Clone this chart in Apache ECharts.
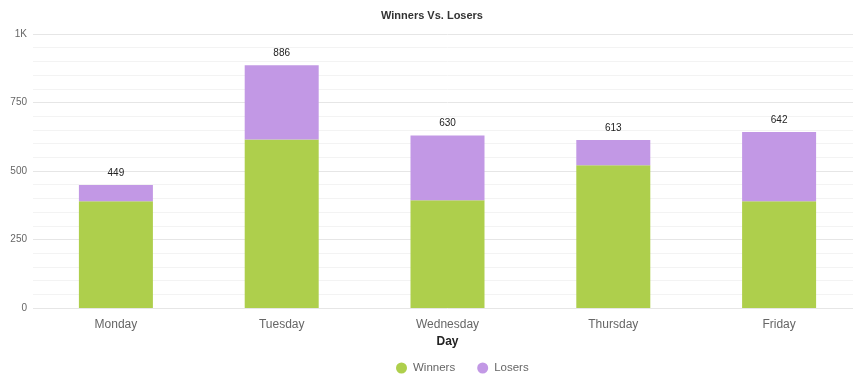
<!DOCTYPE html>
<html><head><meta charset="utf-8">
<script src="https://cdn.jsdelivr.net/npm/echarts@6/dist/echarts.min.js"></script>
<style>html,body{margin:0;padding:0;background:#fff;overflow:hidden;width:853px;height:386px}#c{width:862px;height:386px}</style>
</head><body><div id="c"></div>
<script>
var categories = ['Monday', 'Tuesday', 'Wednesday', 'Thursday', 'Friday'];
var winners = [390, 615, 393, 521, 390];
var losers = [59, 271, 237, 92, 252];
var totals = [449, 886, 630, 613, 642];
var yTicks = [0, 250, 500, 750, 1000];

var chart = echarts.init(document.getElementById('c'));
chart.setOption({
  animation: false,
  title: {
    text: 'Winners Vs. Losers', left: 376, top: 5,
    textStyle: { fontFamily: 'Liberation Sans, Arial', fontSize: 11, fontWeight: 'bold', color: '#333' }
  },
  legend: {
    top: 357, left: 391, icon: 'circle', itemWidth: 13, itemHeight: 11, itemGap: 22,
    textStyle: { fontFamily: 'Liberation Sans, Arial', fontSize: 11.5, color: '#666' },
    data: ['Winners', 'Losers']
  },
  grid: { left: 33, right: 0, top: 34, bottom: 78 },
  xAxis: {
    type: 'category', data: categories,
    name: 'Day', nameLocation: 'middle', nameGap: 28,
    nameTextStyle: { fontFamily: 'Liberation Sans, Arial', fontSize: 12, fontWeight: 'bold', color: '#222' },
    axisLine: { show: false }, axisTick: { show: false },
    axisLabel: { fontFamily: 'Liberation Sans, Arial', fontSize: 12, color: '#666', margin: 11 }
  },
  yAxis: {
    type: 'value', min: 0, max: 1000, interval: 250,
    axisLine: { show: false }, axisTick: { show: false },
    axisLabel: {
      fontFamily: 'Liberation Sans, Arial', fontSize: 10, color: '#666', margin: 6,
      formatter: function (v) { return yTicks.indexOf(v) >= 0 ? (v >= 1000 ? (v / 1000) + 'K' : String(v)) : ''; }
    },
    splitLine: { lineStyle: { color: '#e6e6e6' } },
    minorTick: { show: false, splitNumber: 5 },
    minorSplitLine: { show: true, lineStyle: { color: '#f3f3f3' } }
  },
  series: [
    {
      name: 'Winners', type: 'bar', stack: 'a', data: winners, barWidth: 74,
      itemStyle: { color: '#aecf4c' }
    },
    {
      name: 'Losers', type: 'bar', stack: 'a', data: losers, barWidth: 74,
      itemStyle: { color: '#c298e5' },
      label: {
        show: true, position: 'top', distance: 7,
        fontFamily: 'Liberation Sans, Arial', fontSize: 10, color: '#222',
        formatter: function (p) { return totals[p.dataIndex]; }
      }
    }
  ]
});
</script></body></html>
